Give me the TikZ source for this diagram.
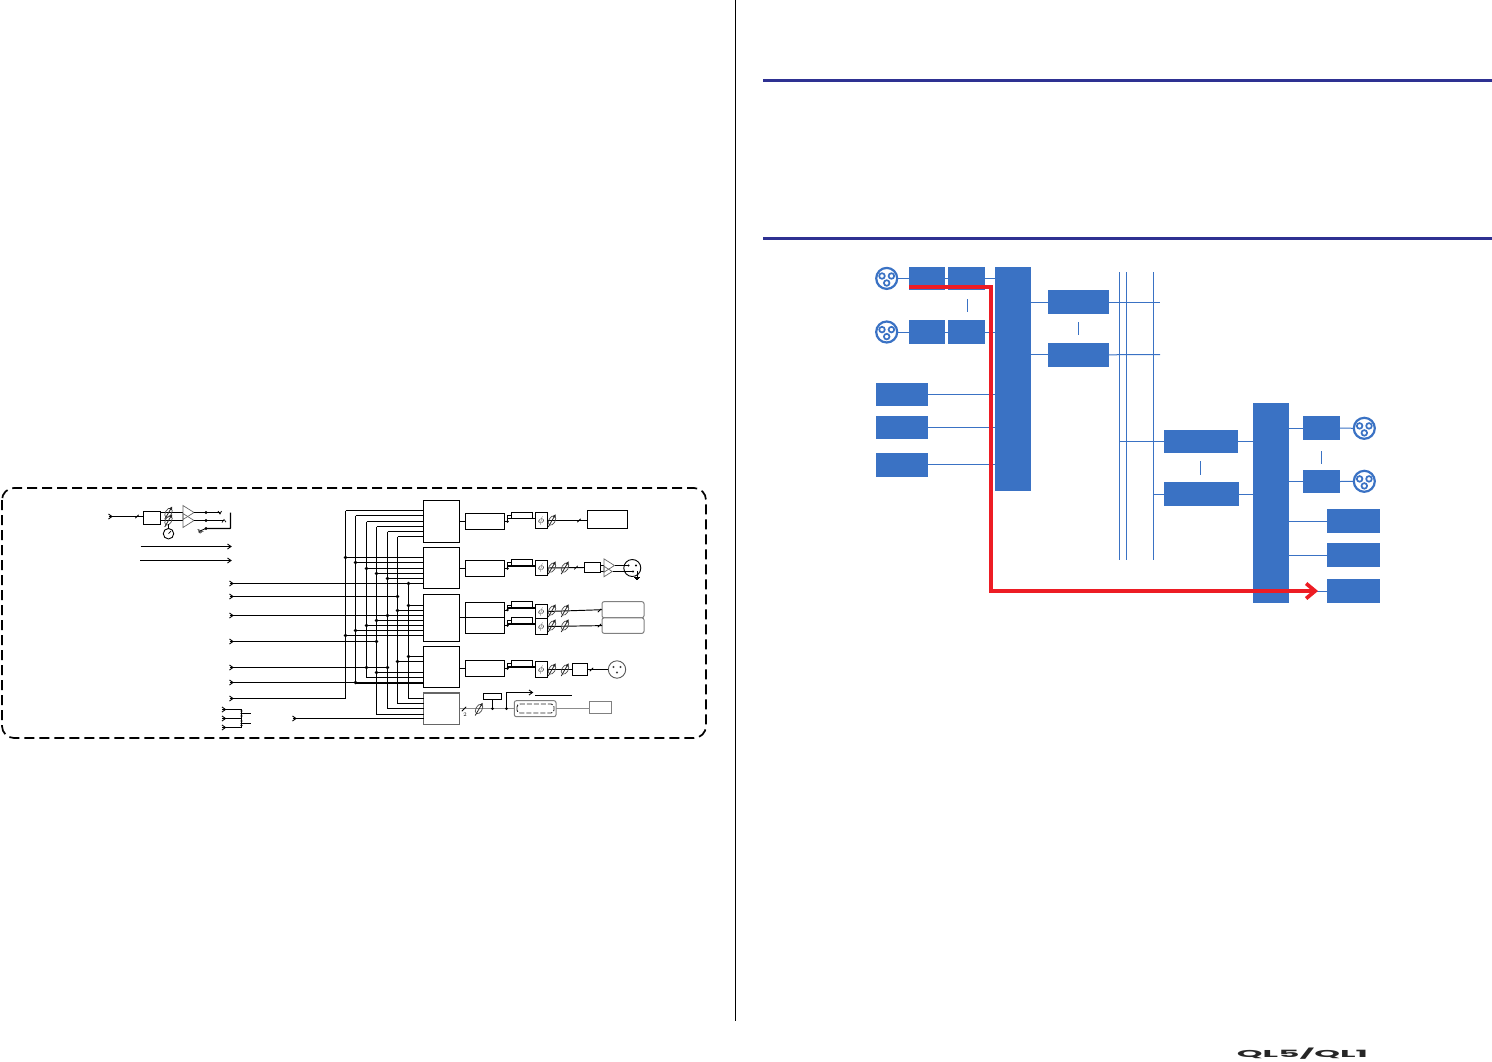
\documentclass[tikz,border=0pt]{standalone}
\usepackage{graphicx}
\usepackage{fontspec}
\usetikzlibrary{arrows.meta,calc}
\newfontfamily\logofont{Poppins}
\definecolor{bluefill}{HTML}{3A72C4}
\definecolor{rulecol}{HTML}{2E3192}
\definecolor{redcol}{HTML}{ED1C24}
\newcommand\bx[6]{\node[#1,minimum width={#5-#3},minimum height={#6-#4}] (#2) at ({(#3+#5)/2},{(#4+#6)/2}) {};}
\newcommand\hl[3]{\draw[wire] (#1 |- 0,#3) -- (#2 |- 0,#3);}
\newcommand\dotat[2]{\fill (#1 |- 0,#2) circle[radius=1.9];}
\newcommand\eqrow[6]{%
  \bx{blk}{#1box}{465.3}{#2}{504.7}{#3}
  \bx{blk}{#1small}{511.3}{#4}{532.7}{#4+6.4}
  \node[blk,minimum width=11.7,minimum height={#6-#5},font=\fontsize{10}{10}\selectfont,text=black] (#1phi) at (541.2,{(#5+#6)/2}) {$\phi$};
  \draw[wire] (#1box.east) -- (#1box.east -| 507.5,0) |- (#1small.west);
  \draw[line width=1.8] (507.5,#4+6.4) -- (#1phi.west |- 0,#4+6.4);
  \fill (507.5,{(#2+#3)/2}) circle[radius=1.4];
}
\tikzset{
  wire/.style={line width=.95pt,black},
  blk/.style={draw=black,line width=.95pt,fill=white,inner sep=0pt,outer sep=0pt},
  gblk/.style={draw=black!50,line width=1pt,fill=white,inner sep=0pt,outer sep=0pt,rounded corners=2pt},
  gwire/.style={line width=1.4pt,black!45},
  bluebox/.style={fill=bluefill,inner sep=0pt,outer sep=0pt},
  blueline/.style={line width=1pt,bluefill},
  chev/.pic={\draw[line width=.9pt] (-2,-2.5) -- (1.5,0) -- (-2,2.5); \draw[line width=.9pt] (-2,0) -- (1,0);},
  tick/.pic={\draw[line width=.8pt] (-1.7,1.7) -- (1.7,-1.7);},
  fader/.pic={\draw[line width=.7pt,black!70,rotate=-30] (0,0) ellipse[x radius=3.1,y radius=5.2];
    \draw[line width=.8pt,black!85,-{Latex[length=3.5pt,width=3.5pt]}] (-3.8,6.5) -- (3.8,-6.5);},
  ampl/.pic={\draw[line width=.7pt,black!60] (0,-7) -- (11,0) -- (0,7) -- cycle;},
  gnd/.pic={\draw[line width=.6pt] (-3,0) -- (3,0) (-2,1.2) -- (2,1.2) (-1,2.4) -- (1,2.4);},
  bluecon/.style={circle,draw=bluefill,line width=2.2pt,fill=white,minimum size=21pt,inner sep=0pt,outer sep=0pt},
  conpins/.pic={\draw[bluefill,line width=1.7pt,fill=white]
      (-4.7,-2.4) circle[radius=2.8] (4.7,-2.4) circle[radius=2.8] (0,4.6) circle[radius=2.8];},
  xlrcon/.style={circle,draw=black,line width=.9pt,fill=white,inner sep=0pt,outer sep=0pt}
}
\begin{document}
\begin{tikzpicture}[x=1pt,y=-1pt]
\useasboundingbox (0,0) rectangle (1492,1061);

% page furniture
\coordinate (divT) at (735.5,0); \coordinate (divB) at (735.5,1021);
\draw[line width=.9pt,black] (divT) -- (divB);
\coordinate (r1a) at (763,80); \coordinate (r1b) at (1492,80);
\coordinate (r2a) at (763,238); \coordinate (r2b) at (1492,238);
\draw[line width=3pt,rulecol] (r1a) -- (r1b);
\draw[line width=3pt,rulecol] (r2a) -- (r2b);
\node[inner sep=0pt,text=black!85] (logo) at (1302.5,1054) {\resizebox{131pt}{9.5pt}{\logofont\bfseries QL5/QL1}};

% dashed frame
\draw[line width=1.7pt,black,dash pattern=on 10pt off 5pt,rounded corners=12pt] (2,488) rectangle (706,738);

% ---------- small block diagram ----------
\coordinate (v1) at (345.5,0); \coordinate (v2) at (355.5,0); \coordinate (v3) at (366.5,0);
\coordinate (v4) at (376.5,0); \coordinate (v5) at (387.5,0); \coordinate (v6) at (397.5,0); \coordinate (v7) at (408.5,0);
\coordinate (in) at (231,0);

\bx{blk}{m1}{423.5}{500.5}{459.5}{542.5}
\bx{blk}{m2}{423.5}{547.5}{459.5}{588.5}
\bx{blk}{m3}{423.5}{594.5}{459.5}{641.5}
\bx{blk}{m4}{423.5}{646.5}{459.5}{687.5}
\node[draw=black!60,line width=1.4pt,fill=white,inner sep=0pt,outer sep=0pt,minimum width=36,minimum height=31.5] (m5) at (441.5,708.8) {};

% verticals
\draw[wire] (v1 |- 0,510.5) -- (v1 |- 0,698.5);
\draw[wire] (v2 |- 0,515.5) -- (v2 |- 0,682.5);
\draw[wire] (v3 |- 0,521.5) -- (v3 |- 0,677.5);
\draw[wire] (v4 |- 0,526.5) -- (v4 |- 0,714.5);
\draw[wire] (v5 |- 0,531.5) -- (v5 |- 0,708.5);
\draw[wire] (v6 |- 0,536.5) -- (v6 |- 0,703.5);
\draw[wire] (v7 |- 0,583.5) -- (v7 |- 0,698.5);
% block 1
\hl{v1}{m1.west}{510.5}\hl{v2}{m1.west}{515.5}\hl{v3}{m1.west}{521.5}
\hl{v4}{m1.west}{526.5}\hl{v5}{m1.west}{531.5}\hl{v6}{m1.west}{536.5}
% block 2
\hl{v1}{m2.west}{557.5}\hl{v2}{m2.west}{562.5}\hl{v3}{m2.west}{568.5}
\hl{v4}{m2.west}{573.5}\hl{v5}{m2.west}{578.5}\hl{in}{m2.west}{583.5}
% inputs ending on buses
\hl{in}{v6}{596.5}\hl{in}{v5}{615.5}\hl{in}{v4}{641.5}\hl{in}{v5}{667.5}
% block 3
\hl{v7}{m3.west}{605.5}\hl{v6}{m3.west}{610.5}\hl{v5}{m3.west}{615.5}
\hl{v4}{m3.west}{620.5}\hl{v3}{m3.west}{625.5}\hl{v2}{m3.west}{630.5}\hl{v1}{m3.west}{635.5}
% block 4
\hl{v7}{m4.west}{656.5}\hl{v6}{m4.west}{661.5}\hl{v4}{m4.west}{672.5}\hl{v3}{m4.west}{677.5}
\hl{in}{v2}{682.5}
\draw[line width=2pt] (v2 |- 0,682.5) -- (m4.west |- 0,682.5);
% block 5
\hl{in}{v1}{698.5}\hl{v7}{m5.west}{698.5}\hl{v6}{m5.west}{703.5}\hl{v5}{m5.west}{708.5}\hl{v4}{m5.west}{714.5}
\coordinate (inB) at (294,0);
\hl{inB}{m5.west}{718.5}
% dots
\dotat{v1}{557.5}\dotat{v2}{562.5}\dotat{v3}{568.5}\dotat{v4}{573.5}\dotat{v5}{578.5}\dotat{v7}{583.5}
\dotat{v6}{596.5}\dotat{v7}{605.5}\dotat{v6}{610.5}\dotat{v5}{615.5}\dotat{v4}{620.5}\dotat{v3}{625.5}\dotat{v2}{630.5}\dotat{v1}{635.5}\dotat{v4}{641.5}
\dotat{v7}{656.5}\dotat{v6}{661.5}\dotat{v3}{667.5}\dotat{v5}{667.5}\dotat{v4}{672.5}\dotat{v2}{682.5}
% input arrowheads
\foreach \yy in {583.5,596.5,615.5,641.5,667.5,682.5,698.5}{\pic at (231.5,\yy) {chev};}
\pic at (294.5,718.5) {chev};

% top-left input strip
\coordinate (inA) at (110,516.5);
\bx{blk}{hpf}{143.5}{511.5}{160.5}{524.5}
\draw[wire] (inA) -- (inA -| hpf.west);
\pic at (110.5,516.5) {chev};
\pic at (137,516.5) {tick};
\coordinate (amp1) at (183,512.5); \coordinate (amp2) at (183,520.5);
\draw[wire] (160.5,512.5) -- (amp1);
\draw[wire] (160.5,520.5) -- (amp2);
\pic at (amp1) {ampl}; \pic at (amp2) {ampl};
\pic at (168.5,512.8) {fader}; \pic at (168.5,520.5) {fader};
\node[draw=black,line width=.9pt,fill=white,circle,minimum size=10.5pt,inner sep=0pt] (meter) at (168.5,533.7) {};
\draw[line width=.8pt] (168.5,524) -- (meter.north);
\draw[line width=.7pt] (meter.center) -- ++(2.5,-2.5);
\coordinate (o1) at (220,512.5); \coordinate (o2) at (224,520.5); \coordinate (o3) at (230.5,528.5);
\draw[wire] (194,512.5) -- (o1);
\draw[wire] (194,520.5) -- (o2);
\fill (206,512.5) circle[radius=1.6] (206,520.5) circle[radius=1.6] (206,528.5) circle[radius=1.6];
\draw[line width=.7pt] (o1) ++(-2,-1.5) -- ++(2,3) -- ++(1.5,-3);
\draw[line width=.7pt] (o2) ++(-2,2) -- ++(2,-3) -- ++(2,2.6);
\draw[line width=1.3pt,rounded corners=.5pt] (206,528.5) -- (o3) -- (o3 |- 0,512.5);
\draw[line width=.8pt] (206,528.5) -- (201,530.5);
\pic[rotate=-20] at (200.5,530.5) {gnd};
\coordinate (t1a) at (140.5,546.5); \coordinate (t1b) at (231,546.5);
\coordinate (t2a) at (140,560.5); \coordinate (t2b) at (231,560.5);
\draw[wire] (t1a) -- (t1b); \pic at (229.5,546.5) {chev};
\draw[wire] (t2a) -- (t2b); \pic at (229.5,560.5) {chev};

% bottom-left cluster
\coordinate (c1) at (241.5,709.5); \coordinate (c2) at (241.5,718.5); \coordinate (c3) at (241.5,727.5);
\coordinate (ca) at (223.5,0); \coordinate (ce) at (251,0);
\hl{ca}{c1}{709.5}\hl{ca}{c2}{718.5}\hl{ca}{c3}{727.5}
\draw[wire] (c1) -- (c3);
\hl{c1}{ce}{713.5}\hl{c1}{ce}{723.5}
\foreach \yy in {709.5,718.5,727.5}{\pic at (224,\yy) {chev};}
\foreach \yy in {711,713.5,716,721,723.5,725.5}{\fill (241.5,\yy) circle[radius=1.1];}

% output rows
\eqrow{a}{513.5}{529.5}{512}{512.5}{528.5}
\eqrow{b}{560.5}{576.5}{559.2}{560.5}{575.5}
\eqrow{c}{602.5}{617.5}{601.8}{604.5}{618.5}
\eqrow{d}{617.5}{633.5}{617.3}{618.5}{634.5}
\eqrow{e}{660.5}{676.5}{660.3}{661.5}{677.5}
\draw[wire] (m1.east |- abox.west) -- (abox.west);
\draw[wire] (m2.east |- bbox.west) -- (bbox.west);
\draw[wire] (m3.east |- 0,617.5) -- (465.3,617.5);
\draw[wire] (m4.east |- ebox.west) -- (ebox.west);

% row a
\bx{blk}{aout}{587.5}{510.5}{627.5}{528.5}
\draw[wire] (aphi.east) -- (aout.west |- aphi.east);
\pic at (552,520.5) {fader};
\pic at (579,520.5) {tick};
% row b
\bx{blk}{bbal}{584.5}{562.5}{600.5}{572.5}
\draw[wire] (bphi.east) -- (bbal.west);
\pic at (552,567.6) {fader}; \pic at (565,567.6) {fader}; \pic at (576,567.6) {tick};
\coordinate (bt1) at (604,565.5); \coordinate (bt2) at (604,571.5);
\draw[wire] (600.5,565.5) -- (bt1); \draw[wire] (600.5,571.5) -- (bt2);
\pic[scale=.95] at (bt1) {ampl}; \pic[scale=.75] at (bt2) {ampl};
\node[xlrcon,minimum size=17pt] (bxlr) at (632.3,568) {};
\draw[wire] (615,565.5) -- (629,565.5); \draw[wire] (613,571.5) -- (633,571.5);
\fill (628.5,565.5) circle[radius=1.2] (636,565.5) circle[radius=1.2] (633,571.5) circle[radius=1.2];
\draw[line width=.8pt] (637,571) -- (637,577);
\pic at (637,577) {gnd};
% rows c d
\bx{gblk}{cout}{602}{601.7}{644}{617.7}
\bx{gblk}{dout}{602}{617.9}{644}{633.3}
\draw[wire] (cphi.east) -- (cout.west);
\draw[wire] (dphi.east) -- (dout.west);
\foreach \yy in {610.5,625.5}{\pic at (552,\yy) {fader}; \pic at (565,\yy) {fader}; \pic at (599.5,\yy) {tick};}
% row e
\bx{blk}{ebal}{572.5}{663.5}{587.5}{675.5}
\node[circle,draw=black!65,line width=.9pt,fill=white,minimum size=17.4pt,inner sep=0pt,outer sep=0pt] (exlr) at (617,669.5) {};
\draw[wire] (ephi.east) -- (ebal.west |- ephi.east);
\draw[wire] (ebal.east) -- (exlr.west);
\pic at (552,669.5) {fader}; \pic at (565,669.5) {fader}; \pic at (591.5,669.5) {tick};
\fill[black!75] (613.5,667) circle[radius=1.2] (620.5,667) circle[radius=1.2] (617,672.5) circle[radius=1.2];
% row 5
\bx{gblk}{card}{514.3}{700.7}{556}{716.7}
\bx{blk}{sm5}{483.5}{693.5}{501.5}{699.5}
\node[draw=black!50,line width=1pt,inner sep=0pt,outer sep=0pt,minimum width=22,minimum height=12.4] (fin) at (600.5,707.5) {};
\draw[gwire] (m5.east |- 0,708.5) -- (card.west |- 0,708.5);
\draw[gwire] (card.east |- 0,708.5) -- (fin.west |- 0,708.5);
\draw[black!85,line width=.9pt,dash pattern=on 5pt off 2pt,rounded corners=3pt] (517,704) rectangle (554,713);
\pic[scale=1.3] at (464,709) {tick};
\node[inner sep=0pt,font=\fontsize{5.5}{5.5}\selectfont] (two) at (465,715) {2};
\pic at (479,709) {fader};
\draw[wire] (sm5.south) -- (sm5.south |- 0,708.5);
\fill (492.5,708.5) circle[radius=1.5] (506.5,708.5) circle[radius=1.5];
\coordinate (up) at (506.5,708.5); \coordinate (upt) at (532,692.5);
\draw[wire] (up) |- (upt);
\pic at (531,692.5) {chev};
\coordinate (sa) at (535,695.5); \coordinate (sb) at (572,695.5);
\draw[wire] (sa) -- (sb);

% ---------- blue signal-flow diagram ----------
\bx{bluebox}{a1}{909}{267}{945}{289.7}
\bx{bluebox}{a2}{948}{267}{985}{289.7}
\bx{bluebox}{a3}{909}{320}{945}{344}
\bx{bluebox}{a4}{948}{320}{985}{344}
\bx{bluebox}{busL}{995}{267}{1031}{491}
\bx{bluebox}{c1b}{876}{383}{928}{406}
\bx{bluebox}{c2b}{876}{416}{928}{439}
\bx{bluebox}{c3b}{876}{453}{928}{476.5}
\bx{bluebox}{d1}{1048}{290}{1109}{314}
\bx{bluebox}{d2}{1048}{343}{1109}{366.5}
\bx{bluebox}{e1}{1164}{430}{1238}{453}
\bx{bluebox}{e2}{1164}{482}{1239}{506}
\bx{bluebox}{busR}{1253}{403}{1289}{603}
\bx{bluebox}{g1}{1303}{416}{1340}{440}
\bx{bluebox}{g2}{1303}{470}{1340}{493}
\bx{bluebox}{h1}{1327}{509}{1380}{533}
\bx{bluebox}{h2}{1327}{543}{1380}{567}
\bx{bluebox}{h3}{1327}{579}{1380}{603}
\node[bluecon] (ci1) at (886.7,278.4) {}; \pic at (ci1) {conpins};
\node[bluecon] (ci2) at (886.7,332) {}; \pic at (ci2) {conpins};
\node[bluecon] (co1) at (1364.3,428.3) {}; \pic at (co1) {conpins};
\node[bluecon] (co2) at (1364.3,481.3) {}; \pic at (co2) {conpins};

\draw[blueline] (ci1.east) -- (a1.west |- ci1.east);
\draw[blueline] (a1.east) -- (a2.west);
\draw[blueline] (a2.east) -- (busL.west |- a2.east);
\draw[blueline] (ci2.east) -- (a3.west |- ci2.east);
\draw[blueline] (a3.east) -- (a4.west);
\draw[blueline] (a4.east) -- (busL.west |- a4.east);
\draw[blueline] (c1b.east) -- (busL.west |- c1b.east);
\draw[blueline] (c2b.east) -- (busL.west |- c2b.east);
\draw[blueline] (c3b.east) -- (busL.west |- c3b.east);
\draw[blueline] (busL.east |- d1.west) -- (d1.west);
\draw[blueline] (busL.east |- d2.west) -- (d2.west);
\coordinate (vA) at (1119.5,272); \coordinate (vAb) at (1119.5,560);
\coordinate (vB) at (1126.5,272); \coordinate (vBb) at (1126.5,560);
\coordinate (vC) at (1153.3,272); \coordinate (vCb) at (1153.3,560);
\draw[blueline] (vA) -- (vAb); \draw[blueline] (vB) -- (vBb); \draw[blueline] (vC) -- (vCb);
\coordinate (d1e) at (1160,302); \coordinate (d2e) at (1160,354.7);
\draw[blueline] (d1.east) -- (d1e);
\draw[blueline] (d2.east) -- (d2e);
\draw[blueline] (vA |- e1.west) -- (e1.west);
\draw[blueline] (vC |- e2.west) -- (e2.west);
\draw[blueline] (e1.east) -- (busR.west |- e1.east);
\draw[blueline] (e2.east) -- (busR.west |- e2.east);
\draw[blueline] (busR.east |- g1.west) -- (g1.west);
\draw[blueline] (busR.east |- g2.west) -- (g2.west);
\draw[blueline] (g1.east) -- (co1.west);
\draw[blueline] (g2.east) -- (co2.west);
\draw[blueline] (busR.east |- h1.west) -- (h1.west);
\draw[blueline] (busR.east |- h2.west) -- (h2.west);
\draw[blueline] (busR.east |- h3.west) -- (h3.west);
% vertical ellipsis ticks
\coordinate (ta) at (967.3,299); \coordinate (tb) at (967.3,312);
\coordinate (tc) at (1078.5,322); \coordinate (td) at (1078.5,335);
\coordinate (te) at (1200.3,461); \coordinate (tf) at (1200.3,475);
\coordinate (tg) at (1321.3,451); \coordinate (th) at (1321.3,464);
\draw[blueline] (ta) -- (tb); \draw[blueline] (tc) -- (td);
\draw[blueline] (te) -- (tf); \draw[blueline] (tg) -- (th);
% red path
\coordinate (rs) at (909,287); \coordinate (rc) at (991,287); \coordinate (re) at (1318,591);
\draw[redcol,line width=3.7pt,-{Straight Barb[length=9pt,width=15pt,line width=3.7pt]}] (rs) -- (rc) |- (re);
\end{tikzpicture}
\end{document}
